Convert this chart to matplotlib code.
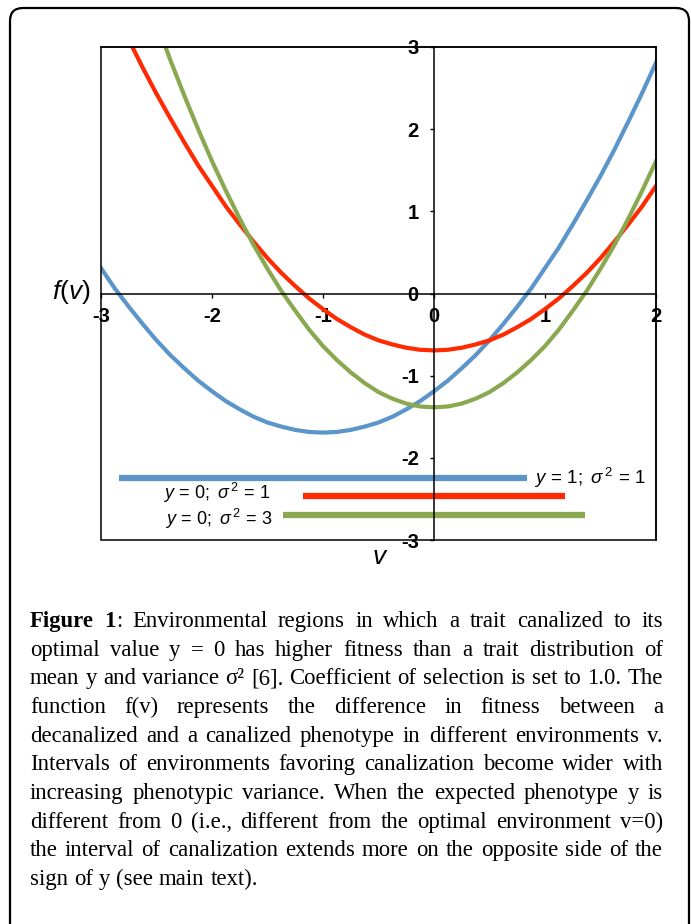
import matplotlib
matplotlib.use('Agg')
import matplotlib.pyplot as plt
from matplotlib.patches import FancyBboxPatch, Rectangle

plt.rcParams['font.family'] = ['Liberation Sans', 'DejaVu Sans']
plt.rcParams['mathtext.fontset'] = 'custom'
plt.rcParams['mathtext.rm'] = 'Liberation Sans'
plt.rcParams['mathtext.it'] = 'Liberation Sans:italic'

# environment v and f(v)
v = [-3.0, -2.875, -2.75, -2.625, -2.5, -2.375, -2.25, -2.125, -2.0, -1.875,
     -1.75, -1.625, -1.5, -1.375, -1.25, -1.125, -1.0, -0.875, -0.75, -0.625,
     -0.5, -0.375, -0.25, -0.125, 0.0, 0.125, 0.25, 0.375, 0.5, 0.625,
     0.75, 0.875, 1.0, 1.125, 1.25, 1.375, 1.5, 1.625, 1.75, 1.875, 2.0]
f_y1_s1 = [0.31, 0.06, -0.16, -0.37, -0.57, -0.75, -0.91, -1.06, -1.19, -1.31,
           -1.41, -1.50, -1.57, -1.62, -1.66, -1.685, -1.693, -1.685, -1.66, -1.62,
           -1.57, -1.50, -1.41, -1.31, -1.19, -1.06, -0.91, -0.75, -0.57, -0.37,
           -0.16, 0.06, 0.31, 0.56, 0.84, 1.13, 1.43, 1.75, 2.09, 2.44, 2.81]
f_y0_s1 = [3.81, 3.44, 3.09, 2.75, 2.43, 2.13, 1.84, 1.56, 1.31, 1.06,
           0.84, 0.63, 0.43, 0.25, 0.09, -0.06, -0.19, -0.31, -0.41, -0.50,
           -0.57, -0.62, -0.66, -0.685, -0.693, -0.685, -0.66, -0.62, -0.57, -0.50,
           -0.41, -0.31, -0.19, -0.06, 0.09, 0.25, 0.43, 0.63, 0.84, 1.06, 1.31]
f_y0_s3 = [5.36, 4.81, 4.29, 3.78, 3.30, 2.84, 2.41, 2.00, 1.61, 1.25,
           0.91, 0.59, 0.30, 0.03, -0.21, -0.44, -0.64, -0.81, -0.96, -1.09,
           -1.20, -1.28, -1.34, -1.375, -1.386, -1.375, -1.34, -1.28, -1.20, -1.09,
           -0.96, -0.81, -0.64, -0.44, -0.21, 0.03, 0.30, 0.59, 0.91, 1.25, 1.61]

# canalization intervals
interval_labels = [r'$y\,=\,1;\ \sigma^{\,2}\,=\,1$', r'$y\,=\,0;\ \sigma^{\,2}\,=\,1$',
                   r'$y\,=\,0;\ \sigma^{\,2}\,=\,3$']
interval_start = [-2.84, -1.18, -1.36]
interval_end = [0.84, 1.18, 1.36]
interval_level = [-2.25, -2.46, -2.69]

colors = ['#5b95c9', '#ff2a00', '#8aa84f']

caption = [
    "Figure 1: Environmental regions in which a trait canalized to its",
    "optimal value y = 0 has higher fitness than a trait distribution of",
    "mean y and variance σ² [6]. Coefficient of selection is set to 1.0. The",
    "function f(v) represents the difference in fitness between a",
    "decanalized and a canalized phenotype in different environments v.",
    "Intervals of environments favoring canalization become wider with",
    "increasing phenotypic variance. When the expected phenotype y is",
    "different from 0 (i.e., different from the optimal environment v=0)",
    "the interval of canalization extends more on the opposite side of the",
    "sign of y (see main text).",
]

W, H = 691, 924
fig = plt.figure(figsize=(W / 100, H / 100), dpi=100)

# rounded frame around the whole figure
frame = FancyBboxPatch((0.10, -0.3), 6.79, 9.46, boxstyle='round,pad=0,rounding_size=0.13',
                       transform=fig.dpi_scale_trans, fill=False, lw=1.6, ec='black')
fig.add_artist(frame)

ax = fig.add_axes([101 / W, 1 - 540 / H, 555 / W, 493 / H])
ax.plot(v, f_y1_s1, color=colors[0], lw=3, zorder=2)
ax.plot(v, f_y0_s1, color=colors[1], lw=3, zorder=2)
ax.plot(v, f_y0_s3, color=colors[2], lw=3, zorder=2)

for i in range(3):
    ax.hlines(interval_level[i], interval_start[i], interval_end[i], color=colors[i],
              lw=4.5, zorder=2)
ax.text(0.90, interval_level[0], interval_labels[0], fontsize=13.5, ha='left', va='center')
ax.text(-1.47, interval_level[1] + 0.03, interval_labels[1], fontsize=13, ha='right', va='center')
ax.text(-1.45, interval_level[2] - 0.05, interval_labels[2], fontsize=13, ha='right', va='center')

ax.set_xlim(-3, 2)
ax.set_ylim(-3, 3)
ax.spines['left'].set_position(('data', 0))
ax.spines['bottom'].set_position(('data', 0))
for s in ax.spines.values():
    s.set_linewidth(1.1)
    s.set_zorder(3)
ax.add_patch(Rectangle((0, 0), 1, 1, transform=ax.transAxes, fill=False, lw=1.1,
                       ec='black', zorder=3, clip_on=False))
ax.set_xticks([-3, -2, -1, 0, 1, 2])
ax.set_yticks([-3, -2, -1, 0, 1, 2, 3])
ax.set_xticklabels(['-3', '-2', '-1', '0', '1', '2'])
ax.set_yticklabels(['-3', '-2', '-1', '0', '1', '2', '3'])
ax.tick_params(direction='out', length=3, width=1, labelsize=14.5)
ax.tick_params(axis='x', pad=7)
ax.tick_params(axis='y', pad=8)
for lab in ax.get_xticklabels() + ax.get_yticklabels():
    lab.set_fontweight('bold')

fig.text(71 / W, 1 - 292 / H, r'$f(v)$', fontsize=19, ha='center', va='center')
fig.text(380 / W, 1 - 557 / H, r'$v$', fontsize=19, ha='center', va='center')

# justified caption
renderer = fig.canvas.get_renderer()
left_px, right_px = 30, 663


def word_segments(i, j, w):
    if i == 0 and j == 0:
        return [(w, 'bold')]
    if i == 0 and j == 1:
        return [('1', 'bold'), (':', 'normal')]
    return [(w, 'normal')]


# pick the size at which the widest line just fits with plain spacing
probe = 14.0
widest = 0
for line in caption:
    t = fig.text(0, 0, line, fontsize=probe, family='Liberation Serif')
    widest = max(widest, t.get_window_extent(renderer).width)
    t.remove()
size = probe * (right_px - left_px - 6) / widest

for i, line in enumerate(caption):
    base = 1 - (627 + 28.65 * i) / H
    words = line.split(' ')
    items = []
    for j, w in enumerate(words):
        ts = []
        wsum = 0
        for s, wt in word_segments(i, j, w):
            t = fig.text(0, base, s, fontsize=size, family='Liberation Serif', weight=wt,
                         va='baseline', ha='left')
            bw = t.get_window_extent(renderer).width
            ts.append((t, bw))
            wsum += bw
        items.append((ts, wsum))
    total = sum(it[1] for it in items)
    if i == len(caption) - 1:
        gap = size * 0.26 * 100 / 72
    else:
        gap = (right_px - left_px - total) / (len(items) - 1)
    x = left_px
    for ts, wsum in items:
        xx = x
        for t, bw in ts:
            t.set_x(xx / W)
            xx += bw
        x += wsum + gap

fig.savefig('out.png', dpi=100)
